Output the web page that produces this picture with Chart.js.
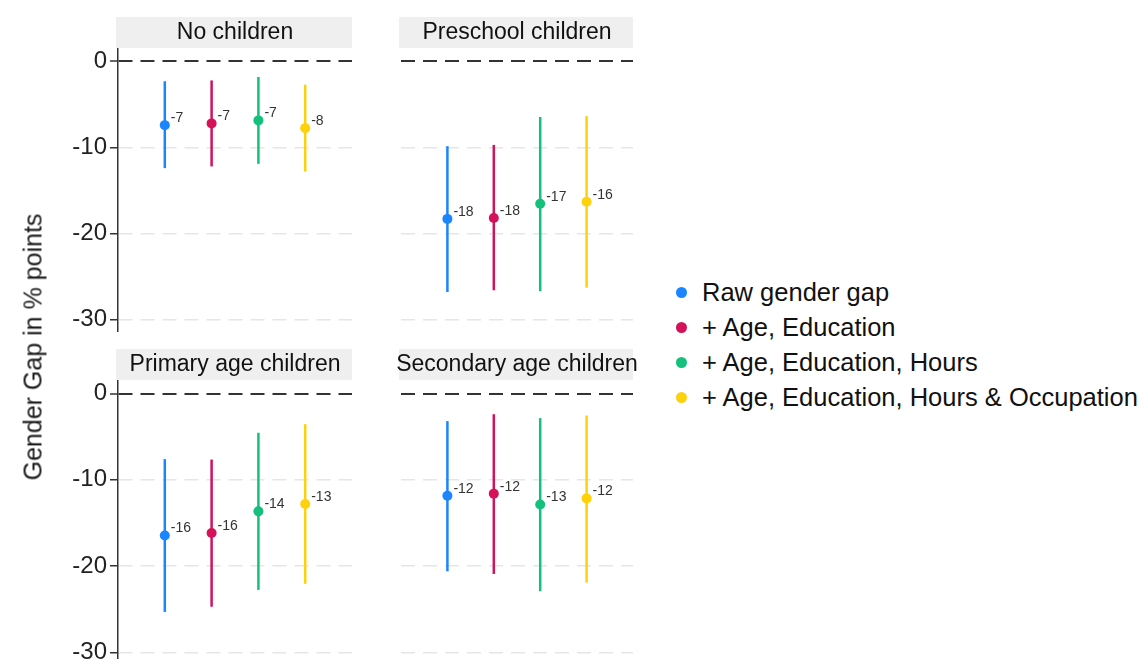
<!DOCTYPE html>
<html>
<head>
<meta charset="utf-8">
<script src="https://cdn.jsdelivr.net/npm/chart.js@4.4.1/dist/chart.umd.min.js"></script>
<style>
  html, body { margin: 0; padding: 0; background: #fff; overflow: hidden; width: 1140px; height: 659px; }
  body { position: relative; font-family: "Liberation Sans", Arial, sans-serif; color: #222; }
  canvas { position: absolute; }
  #ylabel {
    position: absolute; left: 33px; top: 347px; white-space: nowrap; color: #1a1a1a;
    font-size: 25px; transform: translate(-50%, -50%) rotate(-90deg);
  }
  #legend { position: absolute; left: 676px; top: 275px; }
  #legend .row { display: flex; align-items: center; height: 35px; font-size: 25.5px; color: #111; white-space: nowrap; }
  #legend .dot { width: 11px; height: 11px; border-radius: 50%; margin-right: 15px; }
</style>
</head>
<body>
<canvas id="panel0" style="left:0;top:0" width="352" height="332"></canvas>
<canvas id="panel1" style="left:380px;top:0" width="275" height="332"></canvas>
<canvas id="panel2" style="left:0;top:333px" width="352" height="332"></canvas>
<canvas id="panel3" style="left:380px;top:333px" width="275" height="332"></canvas>
<div id="ylabel">Gender Gap in % points</div>
<div id="legend"></div>
<script>
// panels and series
const panelTitles = ['No children', 'Preschool children', 'Primary age children', 'Secondary age children'];
const seriesNames = ['Raw gender gap', '+ Age, Education', '+ Age, Education, Hours', '+ Age, Education, Hours & Occupation'];
const seriesColors = ['#1A85FF', '#D41159', '#14C07C', '#FFD10A'];
const xPositions = [1, 2, 3, 4];

// one row per panel, one value per series
const estimates = [
    [-7.4, -7.2, -6.85, -7.75],
    [-18.3, -18.2, -16.55, -16.3],
    [-16.45, -16.15, -13.65, -12.8],
    [-11.85, -11.6, -12.85, -12.15]
];
const lowerBounds = [
    [-12.4, -12.2, -11.9, -12.8],
    [-26.8, -26.6, -26.7, -26.3],
    [-25.3, -24.7, -22.75, -22.05],
    [-20.6, -20.9, -22.9, -21.9]
];
const upperBounds = [
    [-2.3, -2.2, -1.8, -2.7],
    [-9.85, -9.7, -6.45, -6.35],
    [-7.6, -7.65, -4.55, -3.55],
    [-3.2, -2.4, -2.85, -2.55]
];
const pointLabels = [
    ['-7', '-7', '-7', '-8'],
    ['-18', '-18', '-17', '-16'],
    ['-16', '-16', '-14', '-13'],
    ['-12', '-12', '-13', '-12']
];
const yTicks = [0, -10, -20, -30];
const yMin = -31.45;
const yMax = 1.45;

const FONT = '"Liberation Sans", Arial, sans-serif';

// grey header strip above each panel
const stripPlugin = {
    id: 'strip',
    afterDraw(chart, args, opts) {
        const { ctx, chartArea } = chart;
        ctx.save();
        ctx.fillStyle = '#efefef';
        ctx.fillRect(chartArea.left - 2, chartArea.top - 32, chartArea.right - chartArea.left + 2, 31);
        ctx.fillStyle = '#111';
        ctx.font = '23px ' + FONT;
        ctx.textAlign = 'center';
        ctx.textBaseline = 'middle';
        ctx.fillText(opts.text, (chartArea.left + chartArea.right) / 2, chartArea.top - 16);
        ctx.restore();
    }
};

// small value labels next to each point
const valueLabelPlugin = {
    id: 'valueLabels',
    afterDatasetsDraw(chart) {
        const { ctx } = chart;
        ctx.save();
        ctx.fillStyle = '#333';
        ctx.font = '14px ' + FONT;
        ctx.textAlign = 'left';
        ctx.textBaseline = 'middle';
        chart.data.datasets.forEach((ds, i) => {
            if (!ds.valueLabel) return;
            const pt = chart.getDatasetMeta(i).data[0];
            ctx.fillText(ds.valueLabel, pt.x + 6, pt.y - 7);
        });
        ctx.restore();
    }
};

function buildDatasets(p) {
    const datasets = [];
    seriesNames.forEach((name, i) => {
        datasets.push({
            type: 'scatter',
            label: name,
            data: [{ x: xPositions[i], y: estimates[p][i] }],
            backgroundColor: seriesColors[i],
            borderWidth: 0,
            pointRadius: 5,
            order: 1,
            valueLabel: pointLabels[p][i]
        });
        datasets.push({
            type: 'line',
            label: name + ' CI',
            data: [{ x: xPositions[i], y: lowerBounds[p][i] }, { x: xPositions[i], y: upperBounds[p][i] }],
            borderColor: seriesColors[i],
            borderWidth: 2.5,
            pointRadius: 0,
            fill: false,
            order: 2
        });
    });
    return datasets;
}

function makePanel(p) {
    const showAxis = p % 2 === 0;
    new Chart(document.getElementById('panel' + p), {
        type: 'scatter',
        data: { datasets: buildDatasets(p) },
        options: {
            responsive: false,
            animation: false,
            events: [],
            layout: {
                autoPadding: false,
                padding: { top: p < 2 ? 49 : 48, left: 0, right: showAxis ? 0 : 22, bottom: 0 }
            },
            plugins: {
                legend: { display: false },
                tooltip: { enabled: false },
                strip: { text: panelTitles[p] }
            },
            scales: {
                x: { type: 'linear', min: 0, max: 5, display: false },
                y: {
                    type: 'linear',
                    min: yMin,
                    max: yMax,
                    afterBuildTicks: scale => { scale.ticks = yTicks.map(v => ({ value: v })); },
                    afterFit: scale => {
                        scale.width = showAxis ? 118 : 21;
                        scale.paddingTop = 0;
                        scale.paddingBottom = 0;
                    },
                    ticks: {
                        display: showAxis,
                        color: '#222',
                        font: { size: 24, family: FONT },
                        padding: 3
                    },
                    grid: {
                        color: c => (c.tick && c.tick.value === 0) ? '#333' : '#e6e6e6',
                        lineWidth: c => (c.tick && c.tick.value === 0) ? 2 : 1.5,
                        drawTicks: showAxis,
                        tickLength: 8,
                        tickColor: '#333',
                        tickWidth: 1.5
                    },
                    border: { display: showAxis, color: '#333', width: 1.5, dash: [14, 8] }
                }
            }
        },
        plugins: [stripPlugin, valueLabelPlugin]
    });
}

[0, 1, 2, 3].forEach(makePanel);

// legend
const legendEl = document.getElementById('legend');
seriesNames.forEach((name, i) => {
    const row = document.createElement('div');
    row.className = 'row';
    row.innerHTML = '<span class="dot" style="background:' + seriesColors[i] + '"></span><span>' + name + '</span>';
    legendEl.appendChild(row);
});
</script>
</body>
</html>
